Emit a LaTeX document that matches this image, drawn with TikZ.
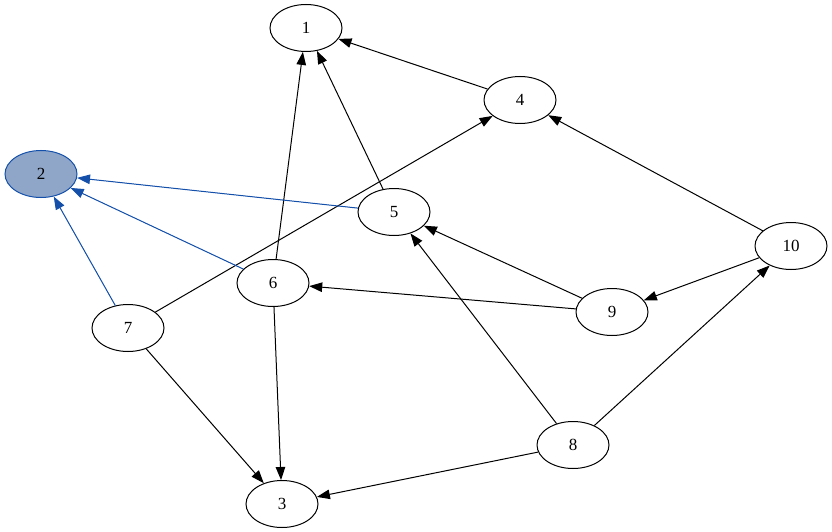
\documentclass[tikz,border=0pt]{standalone}
\usepackage{fontspec}
\setmainfont{Liberation Serif}
\usetikzlibrary{shapes.geometric,arrows.meta}
\definecolor{hlfill}{RGB}{143,166,201}
\definecolor{hlblue}{RGB}{20,80,170}
\tikzset{
  vtx/.style={ellipse,draw=black,line width=1pt,minimum width=72pt,minimum height=47pt,inner sep=0pt,font=\fontsize{17}{17}\selectfont},
  hl/.style={vtx,fill=hlfill,draw=hlblue},
  edge/.style={line width=1pt,-{Triangle[length=13pt,width=9.5pt]}},
  bedge/.style={edge,draw=hlblue,fill=hlblue},
}
\begin{document}
\begin{tikzpicture}[x=1pt,y=-1pt]
\useasboundingbox (0,0) rectangle (832,532);
\node[vtx] (n1) at (306,28) {1};
\node[hl]  (n2) at (41,174) {2};
\node[vtx] (n3) at (282,504) {3};
\node[vtx] (n4) at (520,100) {4};
\node[vtx] (n5) at (394,212) {5};
\node[vtx] (n6) at (273,283) {6};
\node[vtx] (n7) at (128,328) {7};
\node[vtx] (n8) at (573,445) {8};
\node[vtx] (n9) at (612,312) {9};
\node[vtx] (n10) at (791,246) {10};
\draw[edge] (n4) -- (n1);
\draw[edge] (n5) -- (n1);
\draw[edge] (n6) -- (n1);
\draw[edge] (n7) -- (n4);
\draw[bedge] (n5) -- (n2);
\draw[bedge] (n6) -- (n2);
\draw[bedge] (n7) -- (n2);
\draw[edge] (n10) -- (n4);
\draw[edge] (n9) -- (n5);
\draw[edge] (n9) -- (n6);
\draw[edge] (n10) -- (n9);
\draw[edge] (n8) -- (n5);
\draw[edge] (n8) -- (n10);
\draw[edge] (n8) -- (n3);
\draw[edge] (n6) -- (n3);
\draw[edge] (n7) -- (n3);
\end{tikzpicture}
\end{document}
